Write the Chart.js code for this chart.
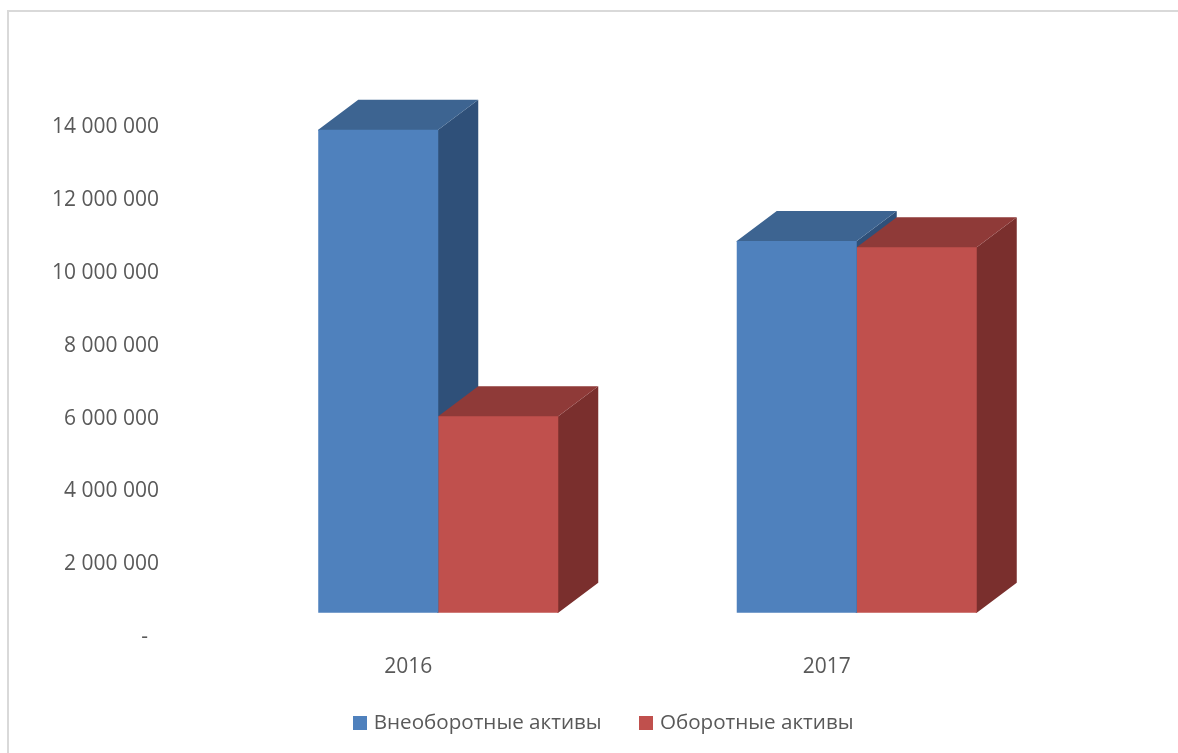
<!DOCTYPE html>
<html lang="ru">
<head>
<meta charset="utf-8">
<title>Внеоборотные и оборотные активы</title>
<script src="https://cdn.jsdelivr.net/npm/chart.js@4"></script>
<style>
  html, body { margin: 0; padding: 0; background: #fff; overflow: hidden; }
  #frame { position: absolute; left: 7px; top: 10px; right: 0; bottom: 0; border-left: 2px solid #d9d9d9; border-top: 2px solid #d9d9d9; }
  #chart { position: absolute; left: 0; top: 0; }
</style>
</head>
<body>
<div id="frame"></div>
<canvas id="chart" width="1178" height="753"></canvas>
<script>
const years = ['2016', '2017'];
const fixedAssets = [13900000, 10840000];
const currentAssets = [6020000, 10670000];
const floorValue = 620000;
const axisTicks = [0, 2000000, 4000000, 6000000, 8000000, 10000000, 12000000, 14000000];

const blueFace = '#4f81bd', blueTop = '#3d6491', blueSide = '#2f5079';
const redFace = '#c0504d', redTop = '#8f3a38', redSide = '#7a2f2d';
const textColor = '#595959';
const depthX = 40, depthY = -30;

function swatch(color) {
  const c = document.createElement('canvas');
  c.width = 14; c.height = 14;
  const g = c.getContext('2d');
  g.fillStyle = color;
  g.fillRect(0, 0, 14, 14);
  return c;
}

function polygon(ctx, color, pts) {
  ctx.fillStyle = color;
  ctx.beginPath();
  pts.forEach((p, i) => i ? ctx.lineTo(p[0], p[1]) : ctx.moveTo(p[0], p[1]));
  ctx.closePath();
  ctx.fill();
}

// Extrudes each bar backwards: side and top faces sit behind the front rectangle
// and tuck one pixel under it, so no seam shows along the shared edges.
const extrudedBars = {
  id: 'extrudedBars',
  beforeDatasetsDraw(chart) {
    const ctx = chart.ctx;
    ctx.save();
    chart.data.datasets.forEach((ds, i) => {
      chart.getDatasetMeta(i).data.forEach(bar => {
        const { x, y, base, width } = bar.getProps(['x', 'y', 'base', 'width'], true);
        const l = x - width / 2, r = x + width / 2;
        polygon(ctx, ds.sideColor, [[r - 1, y], [r, y], [r + depthX, y + depthY], [r + depthX, base + depthY], [r, base], [r - 1, base]]);
        polygon(ctx, ds.topColor, [[l, y + 1], [l, y], [l + depthX, y + depthY], [r + depthX, y + depthY], [r, y], [r, y + 1]]);
      });
    });
    ctx.restore();
  }
};

// The category labels hang below the axis box, above the legend; widen the label area to hold them.
const axisLabelRoom = {
  id: 'axisLabelRoom',
  afterLayout(chart) { chart.scales.x.bottom += 14; }
};

new Chart(document.getElementById('chart'), {
  type: 'bar',
  data: {
    labels: years,
    datasets: [
      { label: 'Внеоборотные активы', data: fixedAssets, base: floorValue, backgroundColor: blueFace, topColor: blueTop, sideColor: blueSide, pointStyle: swatch(blueFace) },
      { label: 'Оборотные активы', data: currentAssets, base: floorValue, backgroundColor: redFace, topColor: redTop, sideColor: redSide, pointStyle: swatch(redFace) }
    ]
  },
  plugins: [extrudedBars, axisLabelRoom],
  options: {
    responsive: false,
    animation: false,
    devicePixelRatio: 1,
    layout: { padding: { left: 32, right: 0, top: 126, bottom: 10 } },
    datasets: { bar: { categoryPercentage: 0.5735, barPercentage: 1 } },
    scales: {
      x: {
        grid: { display: false, drawTicks: false },
        border: { display: false },
        afterFit(scale) { scale.height = 36; },
        ticks: { color: textColor, font: { family: 'Open Sans', size: 21 }, labelOffset: -30, padding: 19.5, maxRotation: 0 }
      },
      y: {
        min: 0,
        max: 14000000,
        grid: { display: false, drawTicks: false },
        border: { display: false },
        afterFit(scale) { scale.width = 197; },
        afterBuildTicks(scale) { scale.ticks = axisTicks.map(value => ({ value })); },
        ticks: {
          color: textColor,
          font: { family: 'Open Sans', size: 21 },
          padding: 70,
          labelOffset: 1.5,
          callback: v => v === 0 ? '-\u00a0\u00a0' : String(v).replace(/\B(?=(\d{3})+$)/g, ' ')
        }
      },
      // Empty right-hand axis: reserves the blank margin beside the plot.
      margin: {
        position: 'right',
        grid: { display: false, drawTicks: false },
        border: { display: false },
        ticks: { display: false },
        afterFit(scale) { scale.width = 112; }
      }
    },
    plugins: {
      tooltip: { enabled: false },
      legend: {
        position: 'bottom',
        labels: {
          color: textColor,
          font: { family: 'Open Sans', size: 20.6 },
          usePointStyle: true,
          pointStyleWidth: 7,
          padding: 41,
          generateLabels(chart) {
            return chart.data.datasets.map((ds, i) => ({
              text: ds.label, fillStyle: ds.backgroundColor, strokeStyle: ds.backgroundColor,
              lineWidth: 0, pointStyle: ds.pointStyle, fontColor: textColor, datasetIndex: i
            }));
          }
        }
      }
    }
  }
});
</script>
</body>
</html>
